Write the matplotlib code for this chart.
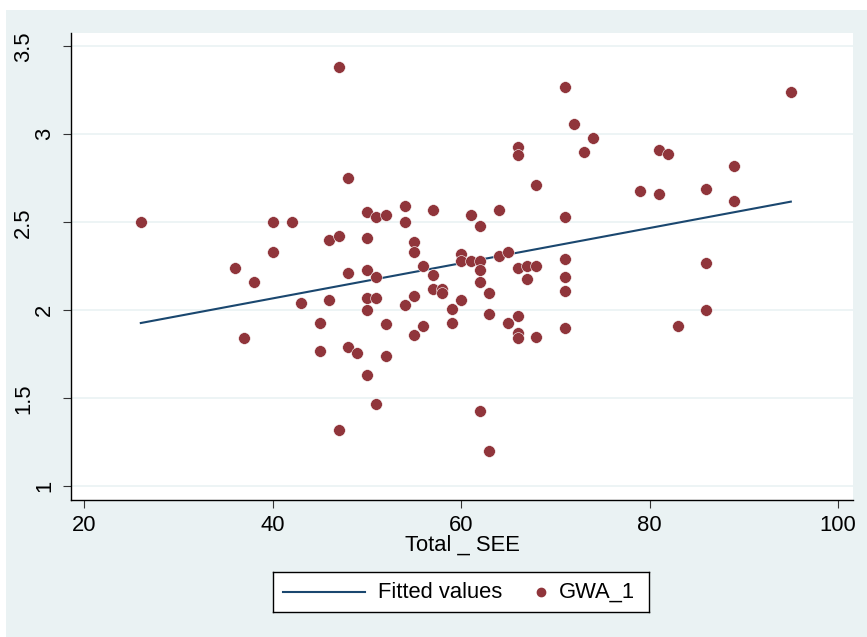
import numpy as np
import matplotlib
matplotlib.use("Agg")
import matplotlib.pyplot as plt
from matplotlib.patches import Rectangle
from matplotlib.transforms import offset_copy

plt.rcParams['font.family'] = ['Liberation Sans', 'DejaVu Sans']

# Total _ SEE (x) and GWA_1 (y)
total_see = [26, 36, 37, 38, 40, 40, 42, 43, 45, 45, 46, 46, 47, 47, 47,
             48, 48, 48, 49, 50, 50, 50, 50, 50, 50, 51, 51, 51, 51,
             52, 52, 52, 54, 54, 54, 55, 55, 55, 55, 56, 56, 57, 57, 57,
             58, 58, 59, 59, 60, 60, 60, 61, 61, 62, 62, 62, 62, 62,
             63, 63, 63, 64, 64, 65, 65, 66, 66, 66, 66, 66, 66, 67, 67,
             68, 68, 68, 71, 71, 71, 71, 71, 71, 72, 73, 74, 79, 81, 81,
             82, 83, 86, 86, 86, 89, 89, 95]
gwa_1 = [2.50, 2.24, 1.84, 2.16, 2.50, 2.33, 2.50, 2.04, 1.93, 1.77, 2.40, 2.06,
         3.38, 2.42, 1.32, 2.75, 2.21, 1.79, 1.76, 2.56, 2.41, 2.23, 2.07, 2.00,
         1.63, 2.53, 2.19, 2.07, 1.47, 2.54, 1.92, 1.74, 2.59, 2.50, 2.03, 2.39,
         2.33, 2.08, 1.86, 2.25, 1.91, 2.57, 2.20, 2.12, 2.12, 2.10, 2.01, 1.93,
         2.32, 2.28, 2.06, 2.54, 2.28, 2.48, 2.28, 2.23, 2.16, 1.43, 2.10, 1.98,
         1.20, 2.57, 2.31, 2.33, 1.93, 2.93, 2.88, 2.24, 1.97, 1.87, 1.84, 2.25,
         2.18, 2.71, 2.25, 1.85, 3.27, 2.53, 2.29, 2.19, 2.11, 1.90, 3.06, 2.90,
         2.98, 2.68, 2.91, 2.66, 2.89, 1.91, 2.69, 2.27, 2.00, 2.82, 2.62, 3.24]

x_ticks = [20, 40, 60, 80, 100]
y_ticks = [1, 1.5, 2, 2.5, 3, 3.5]
y_tick_labels = ['1', '1.5', '2', '2.5', '3', '3.5']

navy = '#1A476F'
maroon = '#90353B'
bg = '#EAF2F3'

x = np.array(total_see, dtype=float)
y = np.array(gwa_1)
# linear fit, drawn over the range of the data
b1, b0 = np.polyfit(x, y, 1)
fit_x = np.array([x.min(), x.max()])
fit_y = b0 + b1 * fit_x

fig = plt.figure(figsize=(8.67, 6.37), dpi=100, facecolor='white')
fig.add_artist(Rectangle((6 / 867, 0), 1, 1 - 10 / 637, transform=fig.transFigure,
                         facecolor=bg, edgecolor='none', zorder=-10))

ax = fig.add_axes([71 / 867, 1 - 500 / 637, (853 - 71) / 867, (500 - 33) / 637])
ax.set_facecolor('white')
ax.plot(fit_x, fit_y, color=navy, lw=1.5, zorder=2)
ax.scatter(x, y, s=72, color=maroon, edgecolors='white', linewidths=0.4, zorder=3)

ax.set_xlim(18.59, 101.6)
ax.set_ylim(0.922, 3.576)
ax.set_xticks(x_ticks)
ax.set_yticks(y_ticks)
ax.set_yticklabels([])
ax.tick_params(axis='both', direction='out', length=6, width=0.8, color='#333333')
ax.tick_params(axis='x', labelsize=15.8, pad=5)
ax.grid(axis='y', color=bg, lw=1.2, zorder=0)
ax.set_axisbelow(True)
for side in ['top', 'right']:
    ax.spines[side].set_visible(False)
for side in ['left', 'bottom']:
    ax.spines[side].set_linewidth(1.0)
    ax.spines[side].set_color('black')

# rotated y labels, placed the way Stata places them
ytrans = ax.get_yaxis_transform()
for v, s in zip(y_ticks, y_tick_labels):
    shift = -19.1 - (len(s) - 1) * 7.5
    ax.text(0, v, s, rotation=90, ha='center', va='center', fontsize=15.8,
            transform=offset_copy(ytrans, fig=fig, x=shift, y=0, units='points'))

ax.set_xlabel('Total _ SEE', fontsize=15.8)
ax.xaxis.set_label_coords(0.5, -0.075)

# legend box
lax = fig.add_axes([273 / 867, (637 - 612) / 637, 376 / 867, 40 / 637])
lax.set_xlim(0, 376)
lax.set_ylim(0, 40)
lax.set_xticks([])
lax.set_yticks([])
lax.set_facecolor('white')
for sp in lax.spines.values():
    sp.set_linewidth(1.0)
    sp.set_color('black')
lax.plot([10, 92], [20, 20], color=navy, lw=1.5)
lax.text(105, 20, 'Fitted values', fontsize=15.8, va='center', ha='left')
lax.plot([268], [20], 'o', color=maroon, markersize=6)
lax.text(286, 20, 'GWA_1', fontsize=15.8, va='center', ha='left')

fig.savefig('out.png', dpi=100, facecolor=fig.get_facecolor())
